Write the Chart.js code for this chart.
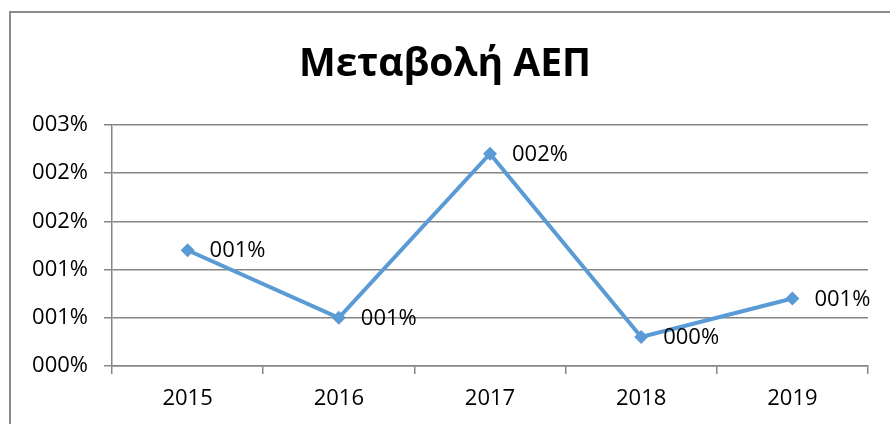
<!DOCTYPE html>
<html>
<head>
<meta charset="utf-8">
<script src="https://cdn.jsdelivr.net/npm/chart.js@4.4.1/dist/chart.umd.min.js"></script>
<style>
    html, body { margin: 0; padding: 0; background: #fff; }
    #wrap { position: relative; width: 890px; height: 424px; overflow: hidden; }
    #frame { position: absolute; left: 9px; top: 11px; width: 1000px; height: 600px; border: 2px solid #8c8c8c; box-sizing: border-box; }
    #chart { position: absolute; left: 0; top: 0; }
</style>
</head>
<body>
<div id="wrap">
    <div id="frame"></div>
    <canvas id="chart" width="890" height="424"></canvas>
</div>
<script>
let years = ['2015', '2016', '2017', '2018', '2019'];
let gdpChange = [1.2, 0.5, 2.2, 0.3, 0.7];   // %
let yTicks = [0, 0.5, 1, 1.5, 2, 2.5];

let fmt = (v) => String(Math.round(v)).padStart(3, '0') + '%';
let font = "'Open Sans', 'Noto Sans', sans-serif";

let pointLabels = {
    id: 'pointLabels',
    afterDatasetsDraw(chart) {
        let ctx = chart.ctx;
        let meta = chart.getDatasetMeta(0);
        ctx.save();
        ctx.font = '22px ' + font;
        ctx.fillStyle = '#000';
        ctx.textAlign = 'left';
        ctx.textBaseline = 'middle';
        meta.data.forEach((pt, i) => {
            ctx.fillText(fmt(gdpChange[i]), pt.x + 22, pt.y + 1);
        });
        ctx.restore();
    }
};

let chart = document.getElementById('chart');

let myChart = new Chart(chart, {
    type: 'line',
    data: {
        labels: years,
        datasets: [{
            data: gdpChange,
            borderColor: '#5b9bd5',
            backgroundColor: '#5b9bd5',
            borderWidth: 4,
            pointStyle: 'rectRot',
            pointRadius: 7,
            pointBorderWidth: 0,
            tension: 0,
            fill: false
        }]
    },
    options: {
        responsive: false,
        animation: false,
        layout: {
            padding: { left: 0, right: 0, top: 0, bottom: 10 }
        },
        plugins: {
            legend: { display: false },
            tooltip: { enabled: false },
            title: {
                display: true,
                text: 'Μεταβολή ΑΕΠ',
                color: '#000',
                font: { family: font, size: 39, weight: 'bold', lineHeight: 1.2 },
                padding: { top: 41, bottom: 37 }
            }
        },
        scales: {
            x: {
                offset: true,
                afterFit: (axis) => {
                    axis.height = 48;
                },
                grid: {
                    offset: true,
                    drawOnChartArea: false,
                    drawTicks: true,
                    tickLength: 8,
                    color: '#868686',
                    lineWidth: 1.5
                },
                border: { color: '#868686', width: 1.5 },
                ticks: {
                    color: '#000',
                    padding: 12,
                    font: { family: font, size: 22 }
                }
            },
            y: {
                min: 0,
                max: 2.5,
                afterBuildTicks: (axis) => {
                    axis.ticks = yTicks.map(v => ({ value: v }));
                },
                afterFit: (axis) => {
                    axis.width = 112;
                },
                grid: {
                    color: '#868686',
                    lineWidth: 1.5,
                    tickLength: 8
                },
                border: { color: '#868686', width: 1.5 },
                ticks: {
                    color: '#000',
                    padding: 16,
                    font: { family: font, size: 22 },
                    callback: (v) => fmt(v)
                }
            },
            // empty strip on the right so the title stays centred on the canvas
            yRight: {
                position: 'right',
                min: 0,
                max: 2.5,
                afterFit: (axis) => {
                    axis.width = 22;
                },
                grid: { display: false },
                border: { display: false },
                ticks: { display: false }
            }
        }
    },
    plugins: [pointLabels]
});
</script>
</body>
</html>
